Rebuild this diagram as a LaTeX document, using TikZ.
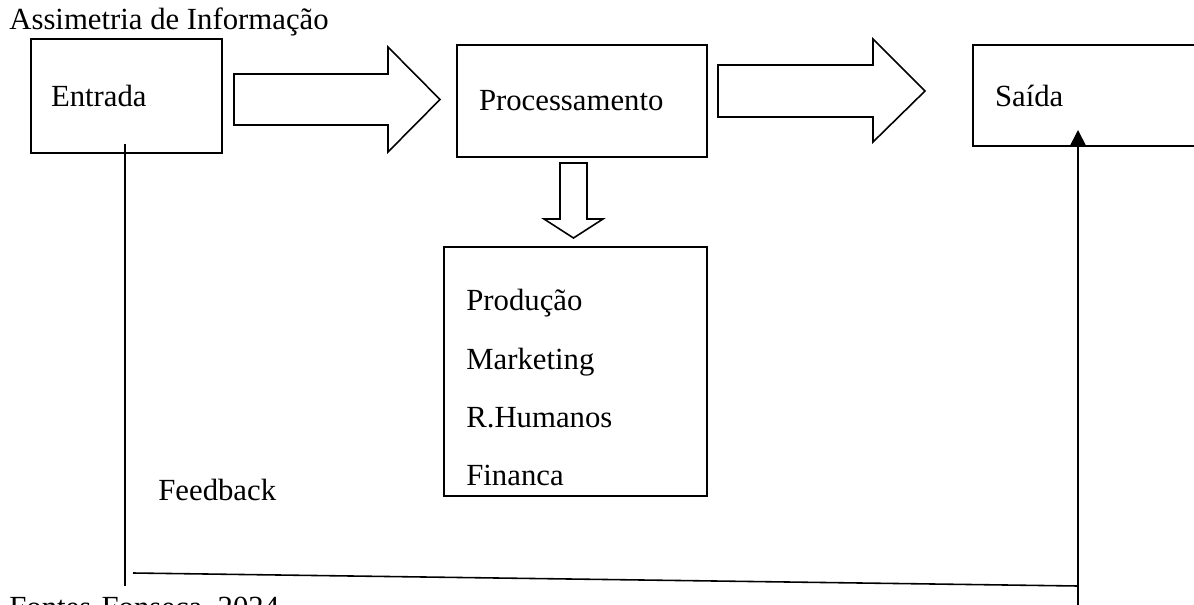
\documentclass[tikz,border=0pt]{standalone}
\usepackage{fontspec}
\setmainfont{Liberation Serif}
\usetikzlibrary{arrows.meta,calc}

\begin{document}
\begin{tikzpicture}[x=0.02cm,y=-0.02cm,>=Triangle,
  every node/.style={font=\fontsize{17.5pt}{21pt}\selectfont},
  caixa/.style={draw,line width=1pt,align=left},
  rotulo/.style={inner sep=0pt,anchor=base west},
  seta/.style={draw,line width=0.9pt},
  linha/.style={line width=0.9pt}]
  % Frame
  \useasboundingbox (0,0) rectangle (1194,605);
  \clip (0,0) rectangle (1194,605);
  % Title
  \node[rotulo] (titulo) at (9,30) {Assimetria de Informação};
  % Boxes
  \node[caixa,text width=3.02cm,inner xsep=0.4cm,minimum height=2.28cm] (entrada) at (126.5,96) {Entrada};
  \node[caixa,text width=4.12cm,inner xsep=0.44cm,minimum height=2.24cm] (proc) at (582,101) {Processamento};
  \node[caixa,text width=4.12cm,inner xsep=0.44cm,minimum height=2.02cm] (saida) at (1098,95.5) {Saída};
  \node[caixa,minimum width=5.26cm,minimum height=4.98cm] (funcoes) at (575.5,371.5) {};
  % Areas inside the lower box
  \foreach \area/\yy [count=\i] in {Produção/310,Marketing/369,R.Humanos/427,Financa/485}
    \node[rotulo] (area\i) at (466,\yy) {\area};
  % Block arrows
  \draw[seta] (234,74) -- (388,74) -- (388,47) -- (440,99.5) -- (388,152) -- (388,125) -- (234,125) -- cycle;
  \draw[seta] (718,65) -- (873,65) -- (873,39) -- (925,91) -- (873,142) -- (873,117) -- (718,117) -- cycle;
  \draw[seta] (560,163) -- (587,163) -- (587,219) -- (603,219) -- (573.5,238) -- (544,219) -- (560,219) -- cycle;
  % Feedback loop
  \node[rotulo] (feedback) at (158,500) {Feedback};
  \coordinate (fbtopo) at ($(entrada.south)+(-1.5,-10)$);
  \coordinate (fbbase) at (125,586);
  \coordinate (fbesq) at (133,573);
  \coordinate (fbdir) at (1078,586);
  \coordinate (fbfim) at (1078,612);
  \coordinate (ponta) at (1078,130);
  \draw[linha] (fbtopo) -- (fbbase);
  \draw[linha] (fbesq) -- (fbdir);
  \draw[linha,-{Triangle[length=0.3cm,width=0.3cm]}] (fbfim) -- (ponta);
  % Source
  \node[rotulo] (fonte) at (9,617) {Fontes-Fonseca, 2024};
\end{tikzpicture}
\end{document}
